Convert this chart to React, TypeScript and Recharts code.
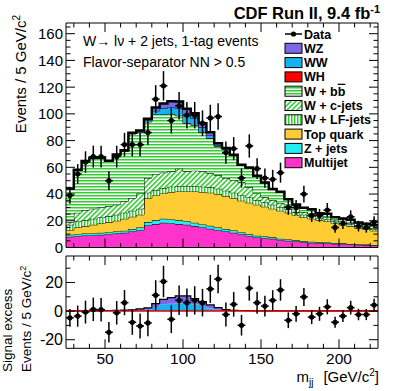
import React from "react";
import { ComposedChart, Area, Scatter, ErrorBar, XAxis, YAxis, ReferenceLine } from "recharts";

// m_jj bin centres (5 GeV/c^2 bins, 25 -> 225)
const binCenters = [
  27.5, 32.5, 37.5, 42.5, 47.5, 52.5, 57.5, 62.5, 67.5, 72.5,
  77.5, 82.5, 87.5, 92.5, 97.5, 102.5, 107.5, 112.5, 117.5, 122.5,
  127.5, 132.5, 137.5, 142.5, 147.5, 152.5, 157.5, 162.5, 167.5, 172.5,
  177.5, 182.5, 187.5, 192.5, 197.5, 202.5, 207.5, 212.5, 217.5, 222.5,
];

// observed events
const dataCounts = [
  39, 55, 64, 68, 68, 50, 68, 77, 77, 77,
  86, 111, 121, 95, 106, 99, 99, 93, 97, 98,
  71, 74, 52, 76, 59, 52, 51, 56, 30, 30,
  40, 24, 24, 28, 15, 18, 23, 16, 15, 19,
];
const dataErrors = [
  6.2, 7.4, 8, 8.2, 8.2, 7.1, 8.2, 8.8, 8.8, 8.8,
  9.3, 10.5, 11, 9.7, 10.3, 9.9, 9.9, 9.6, 9.8, 9.9,
  8.4, 8.6, 7.2, 8.7, 7.7, 7.2, 7.1, 7.5, 5.5, 5.5,
  6.3, 4.9, 4.9, 5.3, 3.9, 4.2, 4.8, 4, 3.9, 4.4,
];
// data minus non-diboson background (lower pad)
const excess = [
  -4.7, -3.5, -0.7, 1.2, 1, -14.8, -1.2, 5.9, -7.8, -10.4,
  -8.3, 11.1, 20.7, -5.7, 7.5, 5.9, 7.5, 5.9, 15.5, 22.4,
  -2.4, 4.7, -9.9, 16, 5.9, 3.5, 7.5, 14.8, -6.4, -1.9,
  9.9, -4.2, -1.9, 3, -7.8, -3.5, 2.4, -2.4, -2.4, 4.2,
];

// backgrounds, stacked bottom -> top
const multijet = [
  8, 8.5, 9, 9, 9.5, 10, 10.5, 11, 12, 13,
  16.5, 17.5, 18.5, 18, 17.5, 17, 16, 15, 14, 13,
  12, 11, 10, 8.5, 7.5, 7, 6.5, 5.5, 5, 4.5,
  4, 3.5, 3.2, 3, 2.7, 2.5, 2.2, 2, 1.8, 1.5,
];
const zJets = [
  1.5, 1.5, 1.5, 1.5, 1.5, 1.5, 1.5, 1.5, 1.8, 2,
  2.5, 2.8, 3, 3, 2.8, 2.7, 2.5, 2.3, 2.2, 2,
  1.8, 1.7, 1.5, 1.4, 1.3, 1.2, 1.1, 1, 1, 0.9,
  0.8, 0.8, 0.7, 0.7, 0.6, 0.6, 0.5, 0.5, 0.5, 0.4,
];
const topQuark = [
  3.5, 5, 5.5, 6.5, 7, 7.5, 8, 9, 9.2, 9.5,
  18, 18.7, 19, 20.5, 21.7, 22.3, 23.5, 24.2, 24.8, 25,
  24.7, 24.3, 23.5, 23.6, 23.2, 22.3, 21.4, 21, 20, 18.6,
  17.7, 17.2, 16.6, 15.8, 14.7, 13.9, 13.3, 12, 11.2, 10.6,
];
const wLF = [
  4, 4.5, 4.5, 4.5, 4.5, 4.5, 4.5, 4.5, 4.5, 4.5,
  4, 4, 4, 4, 4, 4, 4, 4, 4, 4,
  4, 4, 4, 4, 3.5, 3.2, 3, 2.8, 2.5, 2.3,
  2, 1.8, 1.6, 1.5, 1.4, 1.3, 1.2, 1.1, 1, 1,
];
const wC = [
  2, 6.5, 7.5, 7.5, 7.5, 7.5, 7.5, 8.5, 9.5, 11.5,
  11, 12, 11.5, 11.5, 13, 11, 11.5, 11.5, 10.5, 10,
  9.5, 9.5, 10, 7.5, 5, 4, 3.5, 3, 2.5, 2.2,
  2, 1.8, 1.6, 1.5, 1.3, 1.2, 1.1, 1, 0.9, 0.8,
];
const wBB = [
  25, 32, 36.5, 38, 37, 33.5, 37, 37.5, 48, 45.5,
  42, 44.5, 43.5, 43, 39.5, 36, 34, 29, 26.2, 21.5,
  21.4, 18.5, 12.5, 14.5, 13, 10.8, 8, 8.2, 5, 3.5,
  3, 3.4, 1.8, 2.5, 1.8, 2, 2.2, 1.9, 2.1, 2.2,
];
const wH = [
  0, 0, 0, 0, 0, 0, 0, 0, 0, 0,
  0, 0, 0, 0, 0.1, 0.2, 0.3, 0.3, 0.3, 0.2,
  0.1, 0, 0, 0, 0, 0, 0, 0, 0, 0,
  0, 0, 0, 0, 0, 0, 0, 0, 0, 0,
];
const wW = [
  0.1, 0.1, 0.1, 0.1, 0.2, 0.2, 0.3, 0.3, 0.4, 0.6,
  1, 2.8, 4.7, 5.2, 5.4, 5.4, 4.7, 3.5, 1.9, 1,
  0.5, 0.3, 0.2, 0.2, 0.1, 0.1, 0.1, 0.1, 0.1, 0.1,
  0.1, 0.1, 0.1, 0.1, 0.1, 0.1, 0.1, 0.1, 0.1, 0.1,
];
const wZ = [
  0.1, 0.1, 0.1, 0.1, 0.2, 0.2, 0.3, 0.4, 0.5, 0.9,
  1.3, 2.4, 3.5, 4.2, 5.2, 5.2, 4, 3.1, 2.4, 1.4,
  0.5, 0.2, 0.2, 0.1, 0.1, 0.1, 0.1, 0.1, 0.1, 0.1,
  0.1, 0.1, 0.1, 0.1, 0.1, 0.1, 0.1, 0.1, 0.1, 0.1,
];

const GREEN = "#33cc33";
const FONT = "'Liberation Sans', Arial, Helvetica, sans-serif";

// histogram rows at bin low edges, plus closing edge for step drawing
const histRows = binCenters.map((c, i) => ({
  x: c - 2.5,
  multijet: multijet[i],
  zJets: zJets[i],
  topQuark: topQuark[i],
  wLF: wLF[i],
  wC: wC[i],
  wBB: wBB[i],
  wH: wH[i],
  wW: wW[i],
  wZ: wZ[i],
}));
histRows.push({ ...histRows[histRows.length - 1], x: binCenters[binCenters.length - 1] + 2.5 });

const dataPoints = binCenters.map((c, i) => ({ x: c, y: dataCounts[i], err: dataErrors[i], xerr: 2.5 }));
const excessPoints = binCenters.map((c, i) => ({ x: c, y: excess[i], err: dataErrors[i], xerr: 2.5 }));

const range = (a: number, b: number, s: number) => {
  const out: number[] = [];
  for (let v = a; v <= b + 1e-9; v += s) out.push(Math.round(v * 100) / 100);
  return out;
};
const xTicks = range(30, 220, 10);
const xMajors = [50, 100, 150, 200];
const yTopTicks = range(0, 165, 5);
const yTopMajors = range(0, 160, 20);
const yBotTicks = [-20, -10, 0, 10, 20, 30];
const yBotMajors = [-20, 0, 20];

type Side = "left" | "right" | "top" | "bottom";
function axisTick(side: Side, majors: number[], label: boolean, fontSize: number) {
  return (props: any) => {
    const { x, y, payload } = props;
    const v = payload.value as number;
    const major = majors.includes(v);
    const len = major ? 9 : 4.5;
    const st = { stroke: "#000", strokeWidth: 1 };
    let tick;
    if (side === "left") tick = <line x1={x} x2={x + len} y1={y} y2={y} {...st} />;
    else if (side === "right") tick = <line x1={x - len} x2={x} y1={y} y2={y} {...st} />;
    else if (side === "top") tick = <line x1={x} x2={x} y1={y} y2={y + len} {...st} />;
    else tick = <line x1={x} x2={x} y1={y - len} y2={y} {...st} />;
    let text = null;
    if (label && major) {
      if (side === "left")
        text = (
          <text x={x - 3} y={y + fontSize * 0.36} textAnchor="end" fontSize={fontSize} fontFamily={FONT} fill="#000">
            {v}
          </text>
        );
      else
        text = (
          <text x={x} y={y + fontSize} textAnchor="middle" fontSize={fontSize} fontFamily={FONT} fill="#000">
            {v}
          </text>
        );
    }
    return (
      <g>
        {tick}
        {text}
      </g>
    );
  };
}

function Patterns({ p }: { p: string }) {
  return (
    <defs>
      <pattern id={`${p}hH`} width="4" height="3" patternUnits="userSpaceOnUse">
        <rect width="4" height="3" fill="#fff" />
        <rect width="4" height="1.5" fill={GREEN} />
      </pattern>
      <pattern id={`${p}hD`} width="3.5" height="3.5" patternUnits="userSpaceOnUse" patternTransform="rotate(45)">
        <rect width="3.5" height="3.5" fill="#fff" />
        <rect width="1.6" height="3.5" fill={GREEN} />
      </pattern>
      <pattern id={`${p}hV`} width="3" height="4" patternUnits="userSpaceOnUse">
        <rect width="3" height="4" fill="#fff" />
        <rect width="1.5" height="4" fill={GREEN} />
      </pattern>
    </defs>
  );
}

const stackDefs = [
  { key: "multijet", fill: "#ff33cc", sw: 1 },
  { key: "zJets", fill: "#22eef0", sw: 1 },
  { key: "topQuark", fill: "#ffcc33", sw: 1 },
  { key: "wLF", fill: "url(#mhV)", sw: 1 },
  { key: "wC", fill: "url(#mhD)", sw: 1 },
  { key: "wBB", fill: "url(#mhH)", sw: 1 },
  { key: "wH", fill: "#ff0000", sw: 0 },
  { key: "wW", fill: "#12b4f2", sw: 1 },
  { key: "wZ", fill: "#7b68e8", sw: 2.5 },
];

const legendItems = [
  { label: "WZ", fill: "#7b68e8" },
  { label: "WW", fill: "#12b4f2" },
  { label: "WH", fill: "#ff0000" },
  { label: "W + bb", fill: "url(#lhH)", bbar: true },
  { label: "W + c-jets", fill: "url(#lhD)" },
  { label: "W + LF-jets", fill: "url(#lhV)" },
  { label: "Top quark", fill: "#ffcc33" },
  { label: "Z + jets", fill: "#22eef0" },
  { label: "Multijet", fill: "#ff33cc" },
];

function DataShape(props: any) {
  return <circle cx={props.cx} cy={props.cy} r={2.6} fill="#000" />;
}

function MainPanel() {
  return (
    <ComposedChart width={407} height={262} data={histRows} margin={{ top: 22, right: 28, bottom: 13.5, left: 0 }}>
      <Patterns p="m" />
      <XAxis
        type="number"
        dataKey="x"
        domain={[25, 225]}
        allowDataOverflow
        ticks={xTicks}
        interval={0}
        height={1}
        tickSize={0}
        tickMargin={0}
        tickLine={false}
        axisLine={{ stroke: "#000" }}
        tick={axisTick("bottom", xMajors, false, 15)}
      />
      <XAxis
        xAxisId="top"
        orientation="top"
        type="number"
        dataKey="x"
        domain={[25, 225]}
        allowDataOverflow
        ticks={xTicks}
        interval={0}
        height={1}
        tickSize={0}
        tickMargin={0}
        tickLine={false}
        axisLine={{ stroke: "#000" }}
        tick={axisTick("top", xMajors, false, 15)}
      />
      <YAxis
        type="number"
        domain={[0, 168]}
        allowDataOverflow
        ticks={yTopTicks}
        interval={0}
        width={66}
        tickSize={0}
        tickMargin={0}
        tickLine={false}
        axisLine={{ stroke: "#000" }}
        tick={axisTick("left", yTopMajors, true, 15)}
      />
      <YAxis
        yAxisId="right"
        orientation="right"
        type="number"
        domain={[0, 168]}
        allowDataOverflow
        ticks={yTopTicks}
        interval={0}
        width={1}
        tickSize={0}
        tickMargin={0}
        tickLine={false}
        axisLine={{ stroke: "#000" }}
        tick={axisTick("right", yTopMajors, false, 15)}
      />
      {stackDefs.map((s) => (
        <Area
          key={s.key}
          dataKey={s.key}
          stackId="bkg"
          type="stepAfter"
          fill={s.fill}
          fillOpacity={1}
          stroke={s.sw > 0 ? "#000" : "none"}
          strokeWidth={s.sw}
          dot={false}
          activeDot={false}
          isAnimationActive={false}
        />
      ))}
      <Scatter data={dataPoints} dataKey="y" shape={DataShape} isAnimationActive={false}>
        <ErrorBar dataKey="err" direction="y" width={0} stroke="#000" strokeWidth={1.5} isAnimationActive={false} />
        <ErrorBar dataKey="xerr" direction="x" width={0} stroke="#000" strokeWidth={1.5} isAnimationActive={false} />
      </Scatter>
    </ComposedChart>
  );
}

function RatioPanel() {
  return (
    <ComposedChart width={407} height={130} data={histRows} margin={{ top: 4, right: 28, bottom: 31.7, left: 0 }}>
      <XAxis
        type="number"
        dataKey="x"
        domain={[25, 225]}
        allowDataOverflow
        ticks={xTicks}
        interval={0}
        height={1}
        tickSize={0}
        tickMargin={0}
        tickLine={false}
        axisLine={{ stroke: "#000" }}
        tick={axisTick("bottom", xMajors, true, 15.5)}
      />
      <XAxis
        xAxisId="top"
        orientation="top"
        type="number"
        dataKey="x"
        domain={[25, 225]}
        allowDataOverflow
        ticks={xTicks}
        interval={0}
        height={1}
        tickSize={0}
        tickMargin={0}
        tickLine={false}
        axisLine={{ stroke: "#000" }}
        tick={axisTick("top", xMajors, false, 15)}
      />
      <YAxis
        type="number"
        domain={[-26, 38.5]}
        allowDataOverflow
        ticks={yBotTicks}
        interval={0}
        width={66}
        tickSize={0}
        tickMargin={0}
        tickLine={false}
        axisLine={{ stroke: "#000" }}
        tick={axisTick("left", yBotMajors, true, 16)}
      />
      <YAxis
        yAxisId="right"
        orientation="right"
        type="number"
        domain={[-26, 38.5]}
        allowDataOverflow
        ticks={yBotTicks}
        interval={0}
        width={1}
        tickSize={0}
        tickMargin={0}
        tickLine={false}
        axisLine={{ stroke: "#000" }}
        tick={axisTick("right", yBotMajors, false, 15)}
      />
      <Area dataKey="wW" stackId="sig" type="stepAfter" fill="#12b4f2" fillOpacity={1} stroke="none" dot={false} activeDot={false} isAnimationActive={false} />
      <Area dataKey="wZ" stackId="sig" type="stepAfter" fill="#7b68e8" fillOpacity={1} stroke="#000" strokeWidth={1.2} dot={false} activeDot={false} isAnimationActive={false} />
      <ReferenceLine y={0} stroke="#e00000" strokeWidth={1.5} />
      <Scatter data={excessPoints} dataKey="y" shape={DataShape} isAnimationActive={false}>
        <ErrorBar dataKey="err" direction="y" width={0} stroke="#000" strokeWidth={1.5} isAnimationActive={false} />
        <ErrorBar dataKey="xerr" direction="x" width={0} stroke="#000" strokeWidth={1.5} isAnimationActive={false} />
      </Scatter>
    </ComposedChart>
  );
}

function Overlay() {
  const lx = 285;
  const ly0 = 34;
  const dy = 14.3;
  return (
    <svg width={407} height={391} style={{ position: "absolute", left: 0, top: 0, pointerEvents: "none" }} fontFamily={FONT}>
      <Patterns p="l" />
      <text x={380} y={19} textAnchor="end" fontSize={16.5} fontWeight="bold">
        CDF Run II, 9.4 fb<tspan dy={-6} fontSize={11}>-1</tspan>
      </text>
      <text x={83} y={46} fontSize={14}>W→ lν + 2 jets, 1-tag events</text>
      <text x={83} y={67} fontSize={14}>Flavor-separator NN &gt; 0.5</text>
      <text transform="translate(26,15) rotate(-90)" textAnchor="end" fontSize={15}>
        Events / 5 GeV/c<tspan dy={-6} fontSize={10}>2</tspan>
      </text>
      <text transform="translate(12,372) rotate(-90)" textAnchor="start" fontSize={13.5}>Signal excess</text>
      <text transform="translate(31,372) rotate(-90)" textAnchor="start" fontSize={13.5}>
        Events / 5 GeV/c<tspan dy={-5} fontSize={9}>2</tspan>
      </text>
      <text x={379} y={382} textAnchor="end" fontSize={15}>
        m<tspan dy={4} fontSize={10}>jj</tspan>
        <tspan dx={10} dy={-4}>[GeV/c</tspan>
        <tspan dy={-6} fontSize={10}>2</tspan>
        <tspan dy={6}>]</tspan>
      </text>
      {/* legend */}
      <line x1={lx} x2={lx + 17} y1={ly0} y2={ly0} stroke="#000" strokeWidth={1.5} />
      <circle cx={lx + 8.5} cy={ly0} r={2.6} fill="#000" />
      <text x={lx + 19} y={ly0 + 4.5} fontSize={12.5} fontWeight="bold">Data</text>
      {legendItems.map((it, i) => {
        const cy = ly0 + dy * (i + 1);
        return (
          <g key={it.label}>
            <rect x={lx} y={cy - 5} width={17} height={10} fill={it.fill} stroke="#000" strokeWidth={1} />
            <text x={lx + 19} y={cy + 4.5} fontSize={12.5} fontWeight="bold">
              {it.bbar ? (
                <>
                  W + b<tspan style={{ textDecoration: "overline" }}>b</tspan>
                </>
              ) : (
                it.label
              )}
            </text>
          </g>
        );
      })}
    </svg>
  );
}

export default function App() {
  return (
    <div style={{ position: "absolute", left: 0, top: 0, width: 407, height: 391, background: "#fff", fontFamily: FONT }}>
      <div style={{ position: "absolute", left: 0, top: 0 }}>
        <MainPanel />
      </div>
      <div style={{ position: "absolute", left: 0, top: 251 }}>
        <RatioPanel />
      </div>
      <Overlay />
    </div>
  );
}
